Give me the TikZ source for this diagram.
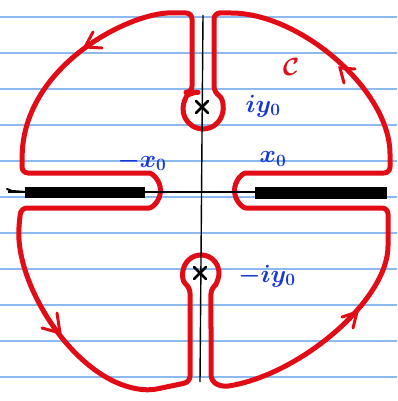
\documentclass[tikz,border=0pt]{standalone}
\usepackage{amssymb}
\definecolor{inkred}{RGB}{226,12,22}
\definecolor{inkblue}{RGB}{25,55,215}
\definecolor{paperblue}{RGB}{140,185,238}
\tikzset{
  contour/.style={draw=inkred, line width=5pt, line join=round, line cap=round, rounded corners=6pt},
  barb/.style={draw=inkred, line width=3pt, line cap=round},
  paperline/.style={draw=paperblue, line width=1.2pt},
  axisline/.style={draw=black, line width=1.4pt},
  lbl/.style={text=inkblue, font=\fontsize{23}{26}\selectfont\boldmath, inner sep=0pt},
  pole/.style={draw=black, line width=2.6pt, line cap=round}
}
\begin{document}
\begin{tikzpicture}[x=1pt,y=-1pt]
\useasboundingbox (0,0) rectangle (397,401);
\fill[white] (0,0) rectangle (397,401);
\foreach \yy in {17,53,89,125,161,197,233,269,305,341,377}
  \draw[paperline] (0,\yy) -- (397,\yy);
% branch cuts
\fill[black] (25,186.5) rectangle (145,197.5);
\draw[black, line width=2pt, line cap=round] (7,189) -- (12,191) -- (26,192);
\fill[black] (255,187) rectangle (387,199);
% contour
\draw[contour]
 (192,92.3) -- (192,13) -- (178,13)
 .. controls (130,12) and (25,65) .. (22,160)
 -- (22,173) -- (143,173)
 arc[start angle=-90,end angle=90,radius=17.5]
 -- (21,208) -- (19,225)
 .. controls (17,290) and (80,387) .. (152,390)
 -- (190,382) -- (190,287.2)
 arc[start angle=127.7,end angle=416.3,radius=18]
 -- (211,381) -- (222,387)
 .. controls (300,375) and (388,300) .. (388,240)
 -- (388,208) -- (252,208)
 arc[start angle=90,end angle=270,radius=17.5]
 -- (390,173) -- (390,160)
 .. controls (390,90) and (300,13) .. (225,13)
 -- (214,13) -- (214,92.3)
 arc[start angle=-56.6,end angle=236.6,radius=20]
 -- cycle;
% arrowheads
\coordinate (t1) at (85,47);
\draw[barb] (93,32) -- (t1) -- (102,48);
\coordinate (t2) at (60,333);
\draw[barb] (57,313) -- (t2) -- (42,328);
\coordinate (t3) at (357,312);
\draw[barb] (342,317) -- (t3) -- (353,328);
\coordinate (t4) at (340,68);
\draw[barb] (355,69) -- (t4) -- (344,83);
% axes
\draw[axisline] (203,15) -- (200,382);
\draw[axisline] (8,192) -- (385,192);
% poles
\draw[pole] (196,101) -- (208,113) (196,113) -- (208,101);
\draw[pole] (194,267) -- (206,279) (194,279) -- (206,267);
% labels
\node[lbl] (iy) at (263,106) {$iy_0$};
\node[lbl] (miy) at (267,276) {$-iy_0$};
\node[lbl] (xr) at (273,159) {$x_0$};
\node[lbl] (xl) at (142,161) {$-x_0$};
\node[text=inkred, font=\fontsize{46}{50}\selectfont\boldmath, inner sep=0pt] (C) at (291,67) {$\mathcal{C}$};
\end{tikzpicture}
\end{document}
